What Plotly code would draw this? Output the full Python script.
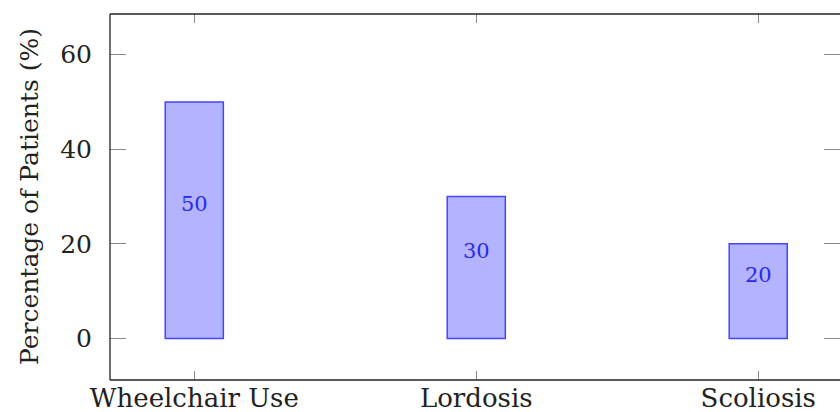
import plotly.graph_objects as go

categories = ["Wheelchair Use", "Lordosis", "Scoliosis"]
values = [50, 30, 20]
ytick_vals = [0, 20, 40, 60]
ytick_text = ["0", "20", "40", "60"]

FONT = "DejaVu Serif"

fig = go.Figure()
fig.add_trace(go.Bar(
    x=list(range(len(categories))),
    y=values,
    width=0.206,
    marker=dict(color="rgb(179,179,255)", line=dict(color="rgb(70,70,255)", width=1.5)),
    hoverinfo="skip",
))

for i, v in enumerate(values):
    fig.add_annotation(x=i, y=v / 2, text=str(v), showarrow=False, yshift=16,
                       font=dict(family=FONT, size=21, color="rgb(40,40,240)"))

fig.add_annotation(xref="paper", yref="paper", x=(29 - 110) / 730, y=0.5,
                   text="Percentage of Patients (%)", textangle=-90, showarrow=False,
                   xanchor="center", yanchor="middle",
                   font=dict(family=FONT, size=25, color="#222"))

frame = dict(color="#222", width=1.3)
fig.add_shape(type="line", xref="paper", yref="paper", x0=0, x1=0, y0=0, y1=1, line=frame)
fig.add_shape(type="line", xref="paper", yref="paper", x0=0, x1=1.05, y0=0, y1=0, line=frame)
fig.add_shape(type="line", xref="paper", yref="paper", x0=0, x1=1.05, y0=1, y1=1, line=frame)

fig.update_layout(
    width=840, height=412,
    margin=dict(l=110, r=0, t=14, b=32),
    plot_bgcolor="white", paper_bgcolor="white",
    showlegend=False,
    xaxis=dict(range=[-0.299, 2.290], tickvals=list(range(len(categories))), ticktext=categories,
               ticks="inside", ticklen=9, tickcolor="#888", tickwidth=1.3, mirror="ticks",
               showline=False, showgrid=False, zeroline=False, automargin=False,
               tickfont=dict(family=FONT, size=26, color="#222"), ticklabelstandoff=0),
    yaxis=dict(range=[-8.8, 68.6], tickvals=ytick_vals, ticktext=ytick_text,
               ticks="inside", ticklen=16, tickcolor="#888", tickwidth=1.3, mirror="ticks",
               showline=False, showgrid=False, zeroline=False, automargin=False,
               tickfont=dict(family=FONT, size=25, color="#222"), ticklabelstandoff=17),
)

fig.write_html("out.html", config={"displayModeBar": False},
               post_script="document.body.style.margin='0';document.body.style.overflow='hidden';")
